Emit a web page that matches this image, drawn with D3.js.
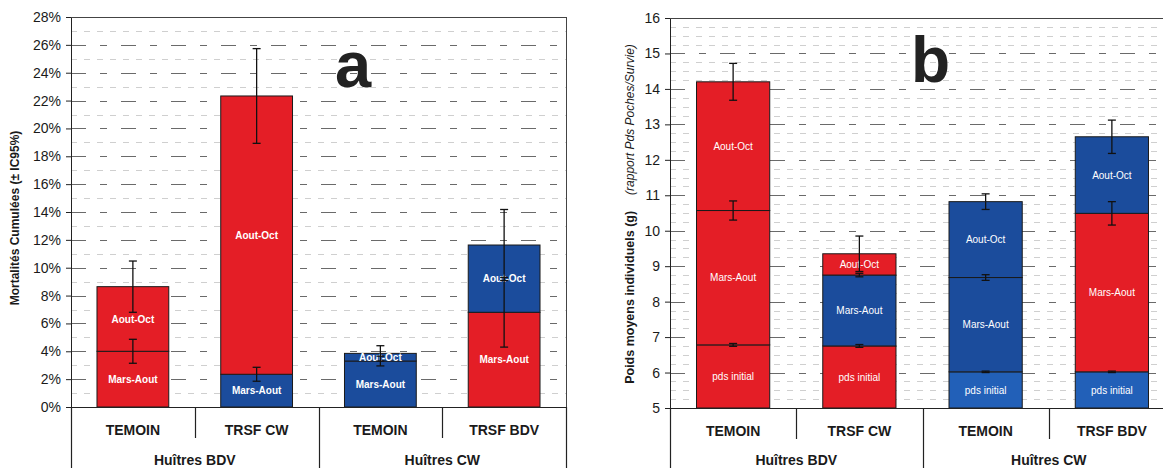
<!DOCTYPE html>
<html><head><meta charset="utf-8">
<script src="https://cdn.jsdelivr.net/npm/d3@7"></script>
<style>
html,body{margin:0;padding:0;background:#fff;}
svg{display:block;font-family:"Liberation Sans",Arial,Helvetica,sans-serif;}
</style></head><body>
<svg id="fig" width="1163" height="468"></svg>
<script>
// ---- shared categories ----
const categories = ["TEMOIN", "TRSF CW", "TEMOIN", "TRSF BDV"];
const groups = ["Huîtres BDV", "Huîtres CW"];

// ---- panel a : cumulative mortality (fraction), level reached at end of each period ----
const mortLabels = ["Mars-Aout", "Aout-Oct"];
const mortMarsAout = [0.040, 0.0235, 0.033, 0.068];
const mortAoutOct = [0.0864, 0.2233, 0.0385, 0.1163];
const mortErrMarsAout = [0.0086, 0.005, 0.0035, 0.025];
const mortErrAoutOct = [0.0184, 0.034, 0.0055, 0.0255];
const mortColMarsAout = ["red", "blue", "blue", "red"];
const mortColAoutOct = ["red", "red", "blue", "blue"];
const mortTicks = [0, 0.02, 0.04, 0.06, 0.08, 0.10, 0.12, 0.14, 0.16, 0.18, 0.20, 0.22, 0.24, 0.26, 0.28];
const mortMinor = [0.01, 0.03, 0.05, 0.07, 0.09, 0.11, 0.13, 0.15, 0.17, 0.19, 0.21, 0.23, 0.25, 0.27];

// ---- panel b : mean individual weight (g), level reached at end of each period ----
const poidsLabels = ["pds initial", "Mars-Aout", "Aout-Oct"];
const poidsInitial = [6.78, 6.75, 6.02, 6.02];
const poidsMarsAout = [10.57, 8.75, 8.68, 10.49];
const poidsAoutOct = [14.2, 9.35, 10.82, 12.65];
const poidsErrInitial = [0.04, 0.04, 0.02, 0.02];
const poidsErrMarsAout = [0.27, 0.05, 0.08, 0.33];
const poidsErrAoutOct = [0.52, 0.5, 0.22, 0.47];
const poidsColInitial = ["red", "red", "lightblue", "lightblue"];
const poidsColMarsAout = ["red", "blue", "blue", "red"];
const poidsColAoutOct = ["red", "red", "blue", "blue"];
const poidsTicks = [5, 6, 7, 8, 9, 10, 11, 12, 13, 14, 15, 16];
const poidsMinor = [5.25, 5.5, 5.75, 6.25, 6.5, 6.75, 7.25, 7.5, 7.75, 8.25, 8.5, 8.75,
  9.25, 9.5, 9.75, 10.25, 10.5, 10.75, 11.25, 11.5, 11.75, 12.25, 12.5, 12.75,
  13.25, 13.5, 13.75, 14.25, 14.5, 14.75, 15.25, 15.5, 15.75];

const palette = { red: "#e41e26", blue: "#1b4c9c", lightblue: "#2260b8" };

const svg = d3.select("#fig");

function drawPanel(cfg) {
  const g = svg.append("g");
  const x = d3.scaleBand().domain(d3.range(categories.length))
    .range([cfg.left, cfg.right]).paddingInner(0.42).paddingOuter(0.21);
  const y = d3.scaleLinear().domain(cfg.domain).range([cfg.bottom, cfg.top]);
  const step = x.step();

  // gridlines
  g.append("g").selectAll("line").data(cfg.minor).join("line")
    .attr("x1", cfg.left).attr("x2", cfg.right)
    .attr("y1", d => Math.round(y(d)) + 0.5).attr("y2", d => Math.round(y(d)) + 0.5)
    .attr("stroke", "#cfcfcf").attr("stroke-width", 1).attr("stroke-dasharray", "6,7");
  g.append("g").selectAll("line").data(cfg.ticks.slice(1)).join("line")
    .attr("x1", cfg.left).attr("x2", cfg.right)
    .attr("y1", d => Math.round(y(d)) + 0.5).attr("y2", d => Math.round(y(d)) + 0.5)
    .attr("stroke", "#6a6a6a").attr("stroke-width", 1).attr("stroke-dasharray", "15,14,7,14");

  // stacked segments
  cfg.segments.forEach((seg, k) => {
    const base = i => k === 0 ? cfg.domain[0] : cfg.segments[k - 1].levels[i];
    g.append("g").selectAll("rect").data(seg.levels).join("rect")
      .attr("x", (d, i) => x(i)).attr("width", x.bandwidth())
      .attr("y", d => y(d)).attr("height", (d, i) => y(base(i)) - y(d))
      .attr("fill", (d, i) => palette[seg.colors[i]])
      .attr("stroke", "#1a1a1a").attr("stroke-width", 1);
    g.append("g").selectAll("text").data(seg.levels).join("text")
      .attr("x", (d, i) => x(i) + x.bandwidth() / 2)
      .attr("y", (d, i) => (y(d) + y(base(i))) / 2)
      .attr("dy", "0.36em").attr("text-anchor", "middle")
      .attr("fill", "#fff").attr("font-size", cfg.labelSize)
      .attr("font-weight", cfg.labelWeight)
      .text(seg.label);
  });

  // error bars
  cfg.segments.forEach(seg => {
    const eg = g.append("g").attr("stroke", "#111").attr("stroke-width", 1.3);
    seg.levels.forEach((v, i) => {
      const e = seg.errors[i];
      const cx = x(i) + x.bandwidth() / 2;
      eg.append("line").attr("x1", cx).attr("x2", cx).attr("y1", y(v - e)).attr("y2", y(v + e));
      [v - e, v + e].forEach(t => eg.append("line")
        .attr("x1", cx - 4).attr("x2", cx + 4).attr("y1", y(t)).attr("y2", y(t)));
    });
  });

  // y axis
  const ya = g.append("g").attr("transform", `translate(${cfg.left},0)`)
    .call(d3.axisLeft(y).tickValues(cfg.ticks).tickFormat(cfg.format).tickSize(5).tickPadding(5).tickSizeOuter(0));
  ya.selectAll("text").attr("font-size", 14).attr("fill", "#1a1a1a").attr("font-family", null);
  ya.selectAll("line,path").attr("stroke", "#222");

  // category axis
  const xa = g.append("g").attr("transform", `translate(0,${cfg.bottom})`)
    .call(d3.axisBottom(x).tickFormat(i => categories[i]).tickSize(0).tickPadding(18).tickSizeOuter(0));
  xa.selectAll("text").attr("font-size", 14).attr("font-weight", "bold").attr("fill", "#1a1a1a").attr("font-family", null);
  xa.select("path").attr("stroke", "#222");

  // category separators
  d3.range(categories.length + 1).forEach(i => {
    const sx = Math.round(cfg.left + i * step) + 0.5;
    g.append("line").attr("x1", sx).attr("x2", sx)
      .attr("y1", cfg.bottom).attr("y2", i % 2 === 0 ? 470 : cfg.bottom + 31)
      .attr("stroke", "#222").attr("stroke-width", 1.2);
  });
  groups.forEach((name, j) => {
    g.append("text").attr("x", cfg.left + (2 * j + 1) * step)
      .attr("y", 465).attr("text-anchor", "middle")
      .attr("font-size", 14).attr("font-weight", "bold").attr("fill", "#1a1a1a").text(name);
  });

  // plot frame (top and right)
  g.append("line").attr("x1", cfg.left).attr("x2", cfg.right)
    .attr("y1", cfg.top + 0.5).attr("y2", cfg.top + 0.5).attr("stroke", "#444");
  g.append("line").attr("x1", cfg.right + 0.5).attr("x2", cfg.right + 0.5)
    .attr("y1", cfg.top).attr("y2", cfg.bottom).attr("stroke", "#444");

  // panel letter
  g.append("text").attr("x", cfg.letterX).attr("y", cfg.letterY)
    .attr("font-size", cfg.letterSize).attr("font-weight", "bold").attr("fill", "#222")
    .text(cfg.letter);
  return g;
}

drawPanel({
  left: 71, right: 566, top: 17, bottom: 407,
  domain: [0, 0.28], ticks: mortTicks, minor: mortMinor, format: d3.format(".0%"),
  segments: [
    { levels: mortMarsAout, errors: mortErrMarsAout, colors: mortColMarsAout, label: mortLabels[0] },
    { levels: mortAoutOct, errors: mortErrAoutOct, colors: mortColAoutOct, label: mortLabels[1] }
  ],
  labelSize: 10, labelWeight: "bold",
  letter: "a", letterX: 335, letterY: 87, letterSize: 65
});

drawPanel({
  left: 670, right: 1175, top: 18, bottom: 408,
  domain: [5, 16], ticks: poidsTicks, minor: poidsMinor, format: d3.format("d"),
  segments: [
    { levels: poidsInitial, errors: poidsErrInitial, colors: poidsColInitial, label: poidsLabels[0] },
    { levels: poidsMarsAout, errors: poidsErrMarsAout, colors: poidsColMarsAout, label: poidsLabels[1] },
    { levels: poidsAoutOct, errors: poidsErrAoutOct, colors: poidsColAoutOct, label: poidsLabels[2] }
  ],
  labelSize: 10, labelWeight: "normal",
  letter: "b", letterX: 911, letterY: 82, letterSize: 64
});

// y-axis titles
svg.append("text").attr("transform", "translate(19,218) rotate(-90)")
  .attr("text-anchor", "middle").attr("font-size", 12).attr("font-weight", "bold").attr("fill", "#1a1a1a")
  .text("Mortalités Cumulées (± IC95%)");

const tb = svg.append("text").attr("transform", "translate(634,214) rotate(-90)")
  .attr("text-anchor", "middle").attr("fill", "#1a1a1a");
tb.append("tspan").attr("font-size", 12.5).attr("font-weight", "bold").text("Poids moyens individuels (g)");
tb.append("tspan").attr("dx", 16).attr("font-size", 12).attr("font-style", "italic").text("(rapport Pds Poches/Survie)");
</script>
</body></html>
